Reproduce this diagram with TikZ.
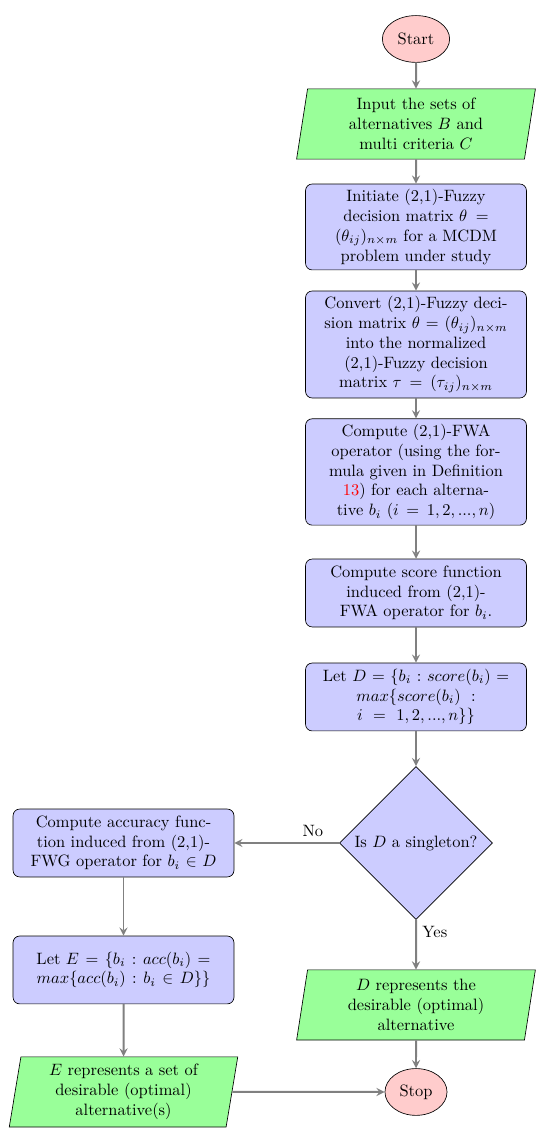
\documentclass[tikz,border=0pt]{standalone}
\usepackage{amsmath}
\usepackage{amssymb}
\usepackage{xcolor}
\usetikzlibrary{shapes.geometric,arrows}

\tikzset{
startstop/.style={ellipse, minimum height=1cm, draw=black, fill=red!20},
io/.style={trapezium, trapezium left angle=80, trapezium right angle=100, trapezium stretches=true, minimum width=4.8cm, minimum height=1.5cm, text width=4.4cm, align=center, draw=black, fill=green!40},
process/.style={rectangle, rounded corners, minimum width=4.72cm, minimum height=1.45cm, text width=4.3cm, align=center, draw=black, fill=blue!20},
decision/.style={diamond, aspect=1, inner sep=1pt, minimum width=3.27cm, minimum height=3.27cm, align=center, draw=black, fill=blue!20},
arrow/.style={very thick, gray, ->, >=stealth}
}

\begin{document}
\begin{tikzpicture}
\useasboundingbox (0,0) rectangle (11.453,-24.103);

\node[startstop] (start) at (8.889,-0.833) {Start};
\node[io] (input) at (8.889,-2.650) {Input the sets of\\ alternatives $B$ and\\ multi criteria $C$};
\node[process] (init) at (8.889,-4.850) {Initiate (2,1)-Fuzzy\\ decision matrix $\theta =$\\ $(\theta_{ij})_{n\times m}$ for a MCDM\\ problem under study};
\node[process] (convert) at (8.889,-7.361) {Convert (2,1)-Fuzzy deci-\\ sion matrix $\theta = (\theta_{ij})_{n\times m}$\\ into the normalized\\ (2,1)-Fuzzy decision\\ matrix $\tau = (\tau_{ij})_{n\times m}$};
\node[process] (fwa) at (8.889,-10.085) {Compute (2,1)-FWA\\ operator (using the for-\\ mula given in Definition\\ {\color{red}13}) for each alterna-\\ tive $b_i$ $(i = 1,2,...,n)$};
\node[process] (score) at (8.889,-12.671) {Compute score function\\ induced from (2,1)-\\ FWA operator for $b_i$.};
\node[process] (letD) at (8.889,-14.893) {Let $D = \{b_i : score(b_i) =$\\ $max\{score(b_i) :$\\ $i = 1,2,...,n\}\}$};
\node[decision] (single) at (8.889,-18.013) {Is $D$ a singleton?};
\node[process] (acc) at (2.639,-18.013) {Compute accuracy func-\\ tion induced from (2,1)-\\ FWG operator for $b_i \in D$};
\node[process] (letE) at (2.639,-20.726) {Let $E = \{b_i : acc(b_i) =$\\ $max\{acc(b_i) : b_i \in D\}\}$};
\node[io] (outD) at (8.889,-21.474) {$D$ represents the\\ desirable (optimal)\\ alternative};
\node[startstop] (stop) at (8.889,-23.333) {Stop};
\node[io, text width=4.15cm] (outE) at (2.639,-23.333) {$E$ represents a set of\\ desirable (optimal)\\ alternative(s)};

\draw[arrow] (start) -- (input);
\draw[arrow] (input) -- (init);
\draw[arrow] (init) -- (convert);
\draw[arrow] (convert) -- (fwa);
\draw[arrow] (fwa) -- (score);
\draw[arrow] (score) -- (letD);
\draw[arrow] (letD) -- (single);
\draw[arrow] (single) -- node[near start, above, black] {No} (acc);
\draw[arrow] (single) -- node[near start, right, black] {Yes} (outD);
\draw[arrow] (acc) -- (letE);
\draw[arrow] (letE) -- (outE);
\draw[arrow] (outD) -- (stop);
\draw[arrow] (outE) -- (stop);
\end{tikzpicture}
\end{document}
